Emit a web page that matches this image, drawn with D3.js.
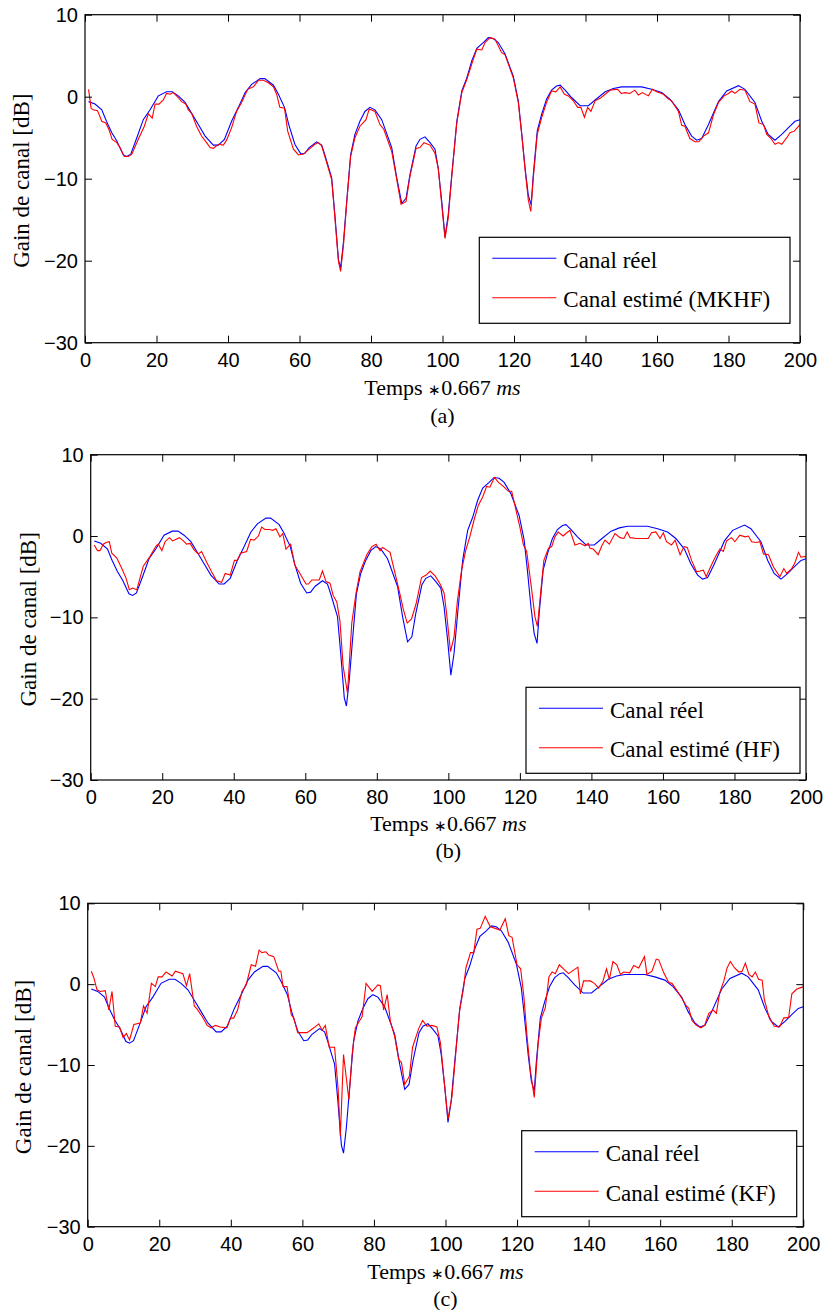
<!DOCTYPE html>
<html>
<head>
<meta charset="utf-8">
<script src="https://cdn.jsdelivr.net/npm/d3@7"></script>
<style>
  body { margin: 0; background: #fff; }
  svg { display: block; }
  .tick text { font-family: "Liberation Sans", Arial, sans-serif; font-size: 20px; fill: #000; }
  .tick line { stroke: #000; stroke-width: 1; }
  .serif { font-family: "Liberation Serif", "Times New Roman", serif; font-size: 22px; fill: #000; }
  .big { font-size: 23px; }
</style>
</head>
<body>
<div id="chart"></div>
<script>
width = 824;
height = 1310;

// axis ticks
var xTicks = [0, 20, 40, 60, 80, 100, 120, 140, 160, 180, 200];
var yTicks = [-30, -20, -10, 0, 10];

// channel gain [t, dB]
var canalReel = [[1,-0.6],[2.8,-0.9],[4.7,-1.6],[6,-3],[7.5,-4.4],[8.9,-5.4],[10.7,-7.1],[11.7,-7.3],[12.8,-7],[14.5,-5],[16.3,-2.8],[18.2,-1.6],[20.5,0.1],[22.8,0.6],[24.4,0.6],[26.1,0.1],[28,-0.7],[29.8,-2],[31.7,-3.4],[33.6,-4.8],[35.9,-5.9],[37.3,-5.9],[39,-5.2],[41,-3],[42.9,-1.3],[44.8,0.5],[46.6,1.5],[49,2.2],[50.3,2.2],[52.7,1.4],[54.1,0.3],[55.8,-1.3],[57,-3.4],[58.7,-5.8],[60.4,-7],[61.5,-6.9],[62.7,-6.2],[64.8,-5.5],[66.2,-5.9],[67.1,-7.1],[69,-9.9],[69.9,-14.4],[70.9,-19.9],[71.5,-20.9],[72.3,-17.7],[73.2,-12.8],[74.3,-7.1],[75.5,-4.6],[76.9,-3],[78.3,-1.8],[79.7,-1.3],[81.1,-1.6],[83,-2.8],[85.8,-6.2],[87.2,-9.9],[88.6,-13],[89.8,-12.4],[90.9,-9.5],[92.6,-6],[93.7,-5.2],[95.1,-4.9],[96.5,-5.6],[97.9,-6.4],[98.8,-8.7],[99.8,-12.8],[100.7,-17.1],[101.6,-14.4],[102.6,-9.5],[104,-3],[105.4,0.7],[106.8,2.3],[108.2,4.4],[109.6,5.9],[111.4,6.6],[112.8,7.2],[114.2,7.1],[115.6,6.6],[117.5,5.2],[119.8,2.5],[121.2,-0.5],[122.1,-4.2],[123.1,-8.7],[124,-12],[124.8,-13.2],[125.4,-9.5],[126.5,-4.2],[127.7,-2.2],[129.1,-0.3],[130.5,0.8],[131.9,1.3],[132.9,1.4],[134.3,0.8],[136.1,-0.1],[138.5,-1.1],[140.8,-1.1],[142.7,-0.4],[145.5,0.6],[147.8,1.0],[150.1,1.2],[155.7,1.2],[158.5,0.9],[161.3,0.5],[163.6,-0.3],[166,-1.6],[167.8,-3.4],[169.7,-4.8],[171.1,-5.3],[172.5,-5.1],[174.4,-3.4],[177.2,-0.6],[179.5,0.7],[182.8,1.35],[184.6,0.9],[187.4,-0.7],[189.3,-3],[191.1,-4.6],[193,-5.3],[194.9,-4.6],[196.7,-3.8],[198.6,-3],[200,-2.8]];

var estimeMKHF = [[1,0.9],[1.7,-1.4],[2.3,-1.6],[3.5,-1.7],[4.7,-3],[5.8,-3.2],[6.7,-4],[7.6,-5.2],[8.9,-5.6],[9.8,-6.2],[11,-7.3],[12.1,-7.3],[13.1,-7],[14.9,-5.2],[16.6,-3.6],[17.7,-2.1],[18.8,-2.6],[19.6,-0.9],[20.7,-0.9],[21.9,-0.4],[22.8,0.4],[23.8,0.3],[24.7,0.5],[26.1,-0.1],[27,-0.6],[28.2,-0.9],[28.9,-1.6],[29.8,-2],[31.2,-3.6],[32.6,-4.8],[34,-5.6],[35,-6.2],[35.9,-6.3],[37.3,-5.8],[38.7,-5.9],[39.6,-5.3],[41,-3.8],[42.4,-1.8],[43.8,-0.7],[45.5,0.9],[47.1,1.2],[48.5,2.0],[49.9,2.0],[51.3,1.7],[52.7,1.2],[53.6,0.3],[54.5,-1.3],[55.8,-1.4],[56.7,-4.2],[58.3,-6.4],[59.7,-7.1],[61.1,-7],[62.7,-6.4],[64.3,-5.8],[65.3,-5.6],[66.2,-6],[67.1,-7.3],[69,-10.1],[69.9,-14.8],[70.9,-20.1],[71.5,-21.3],[72.3,-18.1],[73.2,-13],[74.3,-7.3],[75.5,-5],[76.9,-3.6],[78.6,-2.8],[79.5,-1.5],[81.1,-1.8],[82.5,-3.4],[83.6,-4],[85.8,-6.7],[87.2,-10.1],[88.4,-13.1],[89.8,-12.8],[90.9,-9.7],[92.6,-6.3],[93.7,-6.2],[94.8,-5.6],[96.5,-5.9],[97.9,-6.9],[98.8,-8.7],[100.7,-17.3],[101.6,-14.8],[102.6,-9.7],[104,-3.2],[105.4,0.5],[106.8,2.1],[108.2,4],[109.6,5.8],[111,5.7],[111.9,6.6],[113.3,7.2],[114.7,7],[116.5,5.4],[117.5,5.1],[119.8,2.3],[121.2,-0.7],[122.1,-4.4],[123.1,-8.9],[124,-12.6],[124.7,-14],[125.4,-9.9],[126.5,-4.6],[127.7,-2.6],[129.1,-0.7],[130.5,0.7],[131.7,0.6],[132.9,1.2],[134.1,0.3],[135.2,0.1],[136.6,-0.5],[137.8,-1.3],[138.7,-1.3],[139.7,-2.5],[140.6,-1.3],[141.5,-1.8],[142.7,-0.5],[144.1,-0.2],[145.5,0.3],[146.9,0.8],[149,0.9],[150,0.4],[151.1,0.5],[152.4,0.4],[153.8,0.8],[154.8,0.2],[155.9,0.5],[157.6,0.1],[158.7,0.9],[159.9,0.6],[161.8,0.3],[163.2,-0.3],[164.1,-0.5],[166,-1.8],[166.9,-3.5],[167.8,-3.6],[169.2,-5.1],[170.6,-5.5],[171.7,-5.5],[173,-4.8],[174.4,-4.4],[175.8,-2.2],[177.2,-0.7],[178.8,0.1],[180,0.4],[180.9,0.7],[181.8,0.4],[183.2,0.9],[184.6,0.8],[186,-0.6],[187.4,-0.9],[188.5,-3.2],[189.8,-3.4],[190.7,-4.6],[191.9,-5.1],[193,-5.8],[194,-5.6],[194.9,-5.8],[196.3,-5],[197.2,-4.4],[198.4,-4.2],[200,-3.4]];

var estimeHF = [[1,-1.1],[1.9,-1.8],[2.6,-1.8],[3.5,-1],[4.3,-0.8],[5.2,-0.7],[5.9,-2.1],[7.3,-2.7],[8.7,-4],[9.9,-5.2],[10.8,-6.6],[11.7,-6.4],[12.9,-6.6],[14.7,-3.7],[16.6,-2.5],[18.3,-1.2],[18.9,-1],[19.9,-1.8],[20.8,-0.7],[22,-0.2],[22.9,-0.6],[23.9,-0.4],[24.8,-0.2],[25.9,-0.6],[26.8,-1],[27.8,-0.9],[28.9,-1.7],[30.1,-2.2],[31,-1.9],[32.4,-3.2],[33.8,-4.4],[35.2,-5.5],[36.6,-5.7],[37.6,-4.6],[39,-4.8],[40.2,-3],[41,-3],[41.9,-2.1],[43.6,-1.9],[44.7,-0.4],[45.7,-0.5],[46.9,0],[47.8,1.1],[48.7,0.8],[50,0.8],[50.9,0.7],[51.8,0.9],[52.9,-0.1],[53.7,0.3],[54.6,-1.6],[55.9,-1],[57.1,-3.6],[58.5,-4.6],[60.2,-5.9],[60.9,-5.9],[61.8,-5.4],[63.9,-5.4],[64.8,-4.3],[65.8,-5.6],[66.9,-5.8],[67.8,-7.3],[68.8,-8.1],[69.7,-10.5],[70.6,-16.1],[71.8,-19.3],[73,-10.7],[74.2,-7],[75.3,-4.4],[77.2,-2.3],[78.6,-1.3],[79.8,-1],[80.9,-1.8],[81.6,-1.4],[82.7,-1.7],[83.7,-2],[85.1,-4.6],[86.5,-7.2],[87.4,-9],[88.5,-10.7],[89.7,-10.2],[91,-8.3],[92.5,-5.1],[93.8,-4.8],[94.9,-4.3],[96.3,-4.9],[97.7,-5.9],[98.8,-7],[99.5,-9.5],[100.6,-14.2],[101.6,-12.4],[102.5,-8.1],[103.7,-4.2],[104.9,-1.7],[106,-0.1],[107.2,2],[108.4,3.8],[109.6,4.8],[110.7,6.1],[111.6,6],[112.9,7.2],[114,6.6],[115.4,6.1],[116.8,5.5],[117.7,5.5],[118.6,3.8],[120,1.1],[121,-1.1],[121.9,-1.9],[123.3,-6.6],[124.2,-9.9],[124.9,-11.1],[125.8,-7],[126.7,-3],[128,-1.5],[128.9,-1.3],[129.8,-0.1],[130.7,0.5],[132.1,0],[133.1,0.4],[134,0.7],[135.4,-1.1],[136.8,-0.9],[138.2,-1.2],[139.1,-0.9],[139.6,-1.5],[140.5,-1.6],[141.9,-2.3],[142.9,-1.2],[143.8,-0.5],[145,-1],[146.6,0.3],[148,-0.2],[149.1,-0.3],[150,0.5],[150.8,-0.2],[152.6,-0.3],[155.9,-0.3],[156.8,0.4],[158,0.5],[159.2,-0.3],[160.1,0.4],[161,-0.7],[162.4,-1.1],[163.4,-0.5],[164.8,-2.3],[165.9,-1.3],[166.8,-1.4],[168,-3],[169.4,-4.4],[170.4,-4.3],[171.3,-4.2],[172.1,-5],[173.2,-3.9],[174.6,-2.6],[175.9,-1.6],[176.9,-1.9],[177.8,-0.6],[179.2,-0.2],[180.1,-0.7],[181.5,0.1],[183,-0.1],[183.9,0],[184.8,-0.7],[186,-0.8],[187.1,-0.7],[188.1,-2.2],[189.5,-2.3],[190.9,-3.8],[192.7,-5],[193.8,-4],[194.6,-4.6],[196,-4],[196.9,-3.3],[197.9,-2],[198.6,-2.6],[200,-2.5]];

var estimeKF = [[1,1.6],[1.7,0.8],[2.6,-0.7],[3.5,-0.9],[4.9,-0.8],[5.9,-3.2],[6.8,-0.9],[7.7,-5.2],[8.9,-5.3],[9.9,-6.6],[10.8,-6.1],[11.7,-6.9],[12.9,-5],[14.7,-4.8],[15.6,-2.7],[16.6,-3.6],[17.8,0.1],[18.9,-0.3],[19.7,0.9],[20.8,0.9],[21.9,1.5],[23.6,1],[24.5,1.6],[26.6,1.3],[27.6,-0.2],[28.5,1.3],[29.8,-2.7],[30.6,-3.1],[32,-4],[33.4,-5.1],[34.5,-5.4],[35.7,-5.1],[37.1,-5.3],[38.9,-5.4],[39.9,-4.2],[40.8,-4.2],[41.9,-3.2],[43.1,-0.9],[44.3,-0.1],[45.7,2.4],[46.9,2.2],[47.9,4.2],[48.7,3.9],[49.8,4],[50.6,3.6],[52,3.4],[53.4,1.6],[54,1.6],[54.6,-0.3],[55.7,-0.3],[56.9,-3.8],[57.6,-4.2],[58.7,-6],[61.3,-6],[63.2,-5.4],[64.6,-4.9],[65.5,-5.7],[66.4,-5.1],[67.5,-7.8],[69,-7.8],[70,-13],[70.6,-18.8],[71.5,-8.7],[73,-14.3],[73.9,-8.7],[74.8,-5.4],[76.7,-4],[77.8,0.1],[79.5,-0.9],[81.1,-0.1],[81.8,-0.2],[82.7,-3.2],[83.7,-1.3],[84.6,-4.6],[85.8,-6.5],[86.9,-9.3],[87.7,-9.7],[88.6,-12.4],[89.9,-11.4],[90.8,-7.8],[92.5,-5.5],[93.6,-4.5],[94.8,-5.2],[96.2,-5.1],[97.6,-5.3],[98.6,-7.3],[99.5,-11.4],[100.7,-16.7],[101.8,-13.9],[102.8,-8.9],[103.9,-3.4],[105.1,-0.3],[105.7,2],[107,3.9],[107.9,3.9],[108.8,6.8],[109.7,6.9],[111.1,8.4],[112.5,7.1],[113.9,6.9],[115.2,6.7],[116.7,8.1],[117.7,6],[118.6,5.8],[120,2.4],[121,1.9],[121.9,-1.5],[122.8,-6.5],[123.7,-10.6],[124.8,-14],[125.9,-7.3],[126.8,-4.2],[127.9,-2.9],[128.9,0.9],[129.8,1.5],[130.7,1.3],[131.8,2.4],[133.2,1.8],[134.4,1.3],[137,2.1],[137.7,-1.2],[138.6,0.4],[140.5,0.4],[141.6,0.1],[142.8,-0.5],[144,0.4],[145,1.9],[145.8,0.6],[146.8,2.8],[147.9,2.4],[148.9,1.2],[149.8,1.5],[151.5,1.4],[152.6,2.3],[154,2],[155.6,3.4],[156.3,1.2],[157.7,1.6],[158.9,3.1],[159.6,3],[161,1.4],[162.4,0.2],[163.3,0.1],[164.7,-0.8],[166.4,-2],[167.3,-2.7],[168,-3],[168.9,-4.5],[170.1,-5.1],[171.4,-5.4],[172.4,-5.1],[173.6,-3.6],[174.8,-3.2],[175.7,-3.6],[176.6,-1.1],[177.8,0.4],[178.7,2],[179.6,2.8],[180.8,2],[182,1.5],[182.9,1.6],[183.8,2.6],[184.8,1.2],[185.7,0.9],[186.6,1.5],[187.5,0.6],[188.5,0.5],[189.1,-1.9],[190.5,-4.2],[191.9,-5.2],[193.4,-5.3],[194.5,-4.2],[195.9,-4.1],[196.8,-1.2],[198.2,-0.6],[199.5,-0.4],[200,-0.3]];

var panels = [
  { est: estimeMKHF, name: "Canal estimé (MKHF)", cap: "(a)",
    left: 85, top: 14.7, right: 800, bottom: 342.7, xlabY: 394.5, capY: 422.5, ylabX: 28.5,
    leg: { x: 479.3, y: 237.3, w: 310.7, h: 86 } },
  { est: estimeHF, name: "Canal estimé (HF)", cap: "(b)",
    left: 90.7, top: 454.7, right: 806, bottom: 780, xlabY: 830.7, capY: 858.3, ylabX: 36,
    leg: { x: 526, y: 687.3, w: 274, h: 86 } },
  { est: estimeKF, name: "Canal estimé (KF)", cap: "(c)",
    left: 87.7, top: 903.3, right: 803.3, bottom: 1226.7, xlabY: 1278.5, capY: 1305.5, ylabX: 30.7,
    leg: { x: 521.7, y: 1130.7, w: 275, h: 86 } }
];

const svg = d3.select("#chart")
              .append("svg")
              .attr("width", width)
              .attr("height", height);

panels.forEach(function(p, i) {
  var x = d3.scaleLinear().domain([0, 200]).range([p.left, p.right]);
  var y = d3.scaleLinear().domain([-30, 10]).range([p.bottom, p.top]);
  var g = svg.append("g");

  g.append("clipPath").attr("id", "clip" + i)
    .append("rect")
      .attr("x", p.left).attr("y", p.top)
      .attr("width", p.right - p.left).attr("height", p.bottom - p.top);

  var line = d3.line()
    .x(function(d) { return x(d[0]); })
    .y(function(d) { return y(d[1]); });

  var plot = g.append("g").attr("clip-path", "url(#clip" + i + ")");
  plot.append("path").datum(canalReel)
    .attr("d", line).attr("fill", "none").attr("stroke", "#0000ff").attr("stroke-width", 1.1);
  plot.append("path").datum(p.est)
    .attr("d", line).attr("fill", "none").attr("stroke", "#ff0000").attr("stroke-width", 1.1);

  // axes: ticks drawn inward, MATLAB-style box
  g.append("g").attr("transform", "translate(0," + p.bottom + ")")
    .call(d3.axisBottom(x).tickValues(xTicks).tickSizeInner(-7).tickSizeOuter(0).tickPadding(10))
    .call(function(a) { a.select(".domain").remove(); });
  g.append("g").attr("transform", "translate(0," + p.top + ")")
    .call(d3.axisTop(x).tickValues(xTicks).tickSizeInner(-7).tickSizeOuter(0).tickFormat(""))
    .call(function(a) { a.select(".domain").remove(); });
  g.append("g").attr("transform", "translate(" + p.left + ",0)")
    .call(d3.axisLeft(y).tickValues(yTicks).tickSizeInner(-7).tickSizeOuter(0).tickPadding(7))
    .call(function(a) { a.select(".domain").remove(); });
  g.append("g").attr("transform", "translate(" + p.right + ",0)")
    .call(d3.axisRight(y).tickValues(yTicks).tickSizeInner(-7).tickSizeOuter(0).tickFormat(""))
    .call(function(a) { a.select(".domain").remove(); });

  g.append("rect")
    .attr("x", p.left).attr("y", p.top)
    .attr("width", p.right - p.left).attr("height", p.bottom - p.top)
    .attr("fill", "none").attr("stroke", "#000").attr("stroke-width", 1.2);

  // labels
  var xl = g.append("text").attr("class", "serif")
    .attr("x", (p.left + p.right) / 2).attr("y", p.xlabY)
    .attr("text-anchor", "middle");
  xl.append("tspan").text("Temps ");
  xl.append("tspan").attr("font-size", "15px").text("\u2217");
  xl.append("tspan").text("0.667 ");
  xl.append("tspan").attr("font-style", "italic").text("ms");

  g.append("text").attr("class", "serif")
    .attr("x", (p.left + p.right) / 2).attr("y", p.capY)
    .attr("text-anchor", "middle").text(p.cap);

  g.append("text").attr("class", "serif big")
    .attr("transform", "translate(" + p.ylabX + "," + ((p.top + p.bottom) / 2 + 2) + ") rotate(-90)")
    .attr("text-anchor", "middle").text("Gain de canal [dB]");

  // legend
  var L = p.leg;
  var lg = g.append("g");
  lg.append("rect")
    .attr("x", L.x).attr("y", L.y).attr("width", L.w).attr("height", L.h)
    .attr("fill", "#fff").attr("stroke", "#000").attr("stroke-width", 1.2);
  var items = [["Canal réel", "#0000ff"], [p.name, "#ff0000"]];
  items.forEach(function(it, k) {
    var ly = L.y + 21 + k * 39.5;
    lg.append("line")
      .attr("x1", L.x + 13).attr("x2", L.x + 77)
      .attr("y1", ly).attr("y2", ly)
      .attr("stroke", it[1]).attr("stroke-width", 1.1);
    lg.append("text").attr("class", "serif big")
      .attr("x", L.x + 84).attr("y", ly + 9.5)
      .text(it[0]);
  });
});
</script>
</body>
</html>
